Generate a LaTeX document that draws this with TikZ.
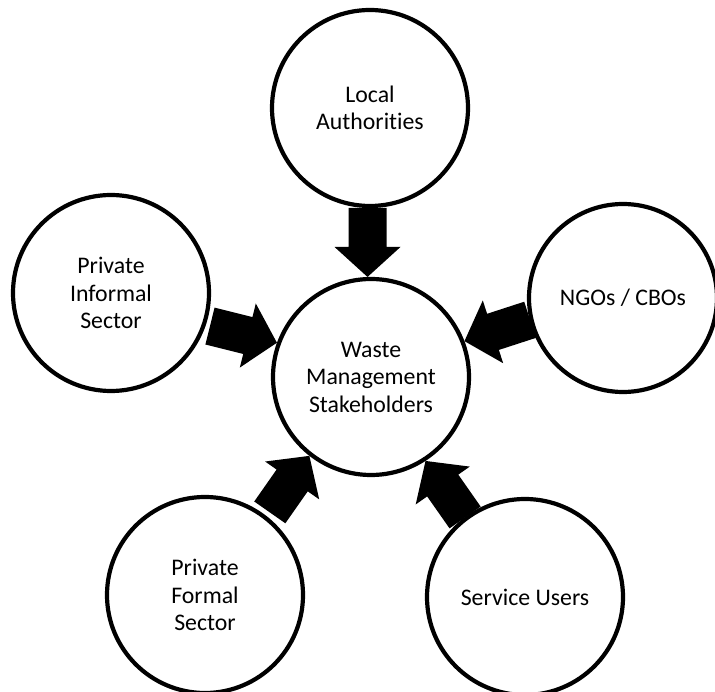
\documentclass[tikz,border=0pt]{standalone}
\usepackage{fontspec}
\setmainfont[Ligatures=NoCommon]{Carlito}
\begin{document}
\begin{tikzpicture}[x=1pt,y=1pt,
  stakeholder/.style={circle, draw=black, line width=4.2pt, minimum size=196pt,
    inner sep=0pt, align=center, font=\fontsize{23.8}{27.5}\selectfont},
  blockarrow/.pic={\fill[black] (0,0) -- (-30,33) -- (-30,19) -- (-69,19)
    -- (-69,-19) -- (-30,-19) -- (-30,-33) -- cycle;}
]
\useasboundingbox (0,0) rectangle (715,691);

% central node and the five stakeholder groups around it
\node[stakeholder] (hub)   at (371,314) {Waste\\Management\\Stakeholders};
\node[stakeholder] (local) at (370,583) {Local\\Authorities};
\node[stakeholder] (infml) at (111,398) {Private\\Informal\\Sector};
\node[stakeholder, minimum size=188pt] (ngo) at (623,393) {NGOs / CBOs};
\node[stakeholder] (formal) at (205,96) {Private\\Formal\\Sector};
\node[stakeholder] (users)  at (525,94) {Service Users};

% block arrows pointing into the central node
\pic[rotate=-90] at (hub.92)  {blockarrow};
\pic[rotate=-14] at (hub.160) {blockarrow};
\pic[rotate=198] at (hub.21)  {blockarrow};
\pic[rotate=55]  at (hub.232) {blockarrow};
\pic[rotate=125] at (hub.303) {blockarrow};
\end{tikzpicture}
\end{document}
